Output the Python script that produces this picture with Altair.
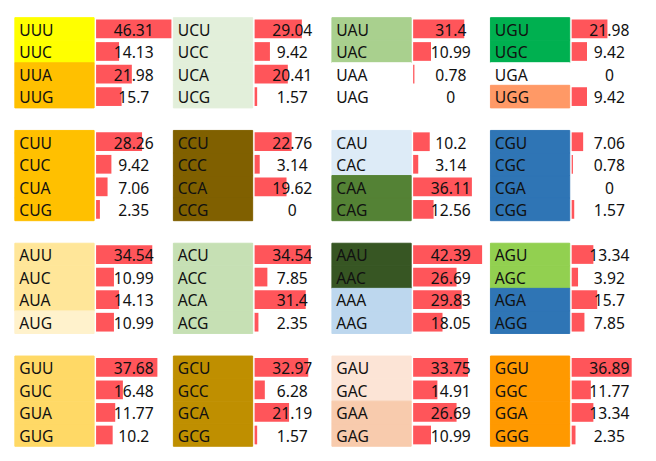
import altair as alt
import pandas as pd

bases = ["U", "C", "A", "G"]

# values per second base (column block); rows: first base U,C,A,G x third base U,C,A,G
vals_U = [46.31, 14.13, 21.98, 15.7, 28.26, 9.42, 7.06, 2.35,
          34.54, 10.99, 14.13, 10.99, 37.68, 16.48, 11.77, 10.2]
vals_C = [29.04, 9.42, 20.41, 1.57, 22.76, 3.14, 19.62, 0,
          34.54, 7.85, 31.4, 2.35, 32.97, 6.28, 21.19, 1.57]
vals_A = [31.4, 10.99, 0.78, 0, 10.2, 3.14, 36.11, 12.56,
          42.39, 26.69, 29.83, 18.05, 33.75, 14.91, 26.69, 10.99]
vals_G = [21.98, 9.42, 0, 9.42, 7.06, 0.78, 0, 1.57,
          13.34, 3.92, 15.7, 7.85, 36.89, 11.77, 13.34, 2.35]

fills_U = ["#FFFF00", "#FFFF00", "#FFC000", "#FFC000",
           "#FFC000", "#FFC000", "#FFC000", "#FFC000",
           "#FFE699", "#FFE699", "#FFE699", "#FFF2CC",
           "#FFD966", "#FFD966", "#FFD966", "#FFD966"]
fills_C = ["#E2EFDA"] * 4 + ["#806000"] * 4 + ["#C6E0B4"] * 4 + ["#BF8F00"] * 4
fills_A = ["#A9D08E", "#A9D08E", "#FFFFFF", "#FFFFFF",
           "#DDEBF7", "#DDEBF7", "#548235", "#548235",
           "#375623", "#375623", "#BDD7EE", "#BDD7EE",
           "#FCE4D6", "#FCE4D6", "#F8CBAD", "#F8CBAD"]
fills_G = ["#00B050", "#00B050", "#FFFFFF", "#FF9966",
           "#2F75B5", "#2F75B5", "#2F75B5", "#2F75B5",
           "#92D050", "#92D050", "#2F75B5", "#2F75B5",
           "#FF9900", "#FF9900", "#FF9900", "#FF9900"]

all_vals = {"U": vals_U, "C": vals_C, "A": vals_A, "G": vals_G}
all_fills = {"U": fills_U, "C": fills_C, "A": fills_A, "G": fills_G}
vmax = max(max(v) for v in all_vals.values())

slots = []
for i, f in enumerate(bases):
    slots += [f + t for t in bases]
    if i < 3:
        slots.append("gap" + str(i))

FONT = "Noto Sans"
FS = 16
H = 438
LW = 81
VW = 79

panels = []
for s in bases:
    rows = []
    k = 0
    for f in bases:
        for t in bases:
            rows.append({"slot": f + t, "codon": f + s + t,
                         "value": all_vals[s][k], "fill": all_fills[s][k],
                         "label": f"{all_vals[s][k]:g}"})
            k += 1
    df = pd.DataFrame(rows)

    ylab = alt.Y("slot:N", scale=alt.Scale(domain=slots, paddingInner=0, paddingOuter=0), axis=None)
    lbase = alt.Chart(df).encode(y=ylab)
    lrect = lbase.mark_rect(strokeWidth=1).encode(
        color=alt.Color("fill:N", scale=None),
        stroke=alt.Stroke("fill:N", scale=None))
    ltext = lbase.mark_text(align="left", baseline="middle", font=FONT, fontSize=FS,
                            color="#111111", dy=2).encode(x=alt.value(4.5), text="codon:N")
    lchart = alt.layer(lrect, ltext).properties(width=LW, height=H)

    yval = alt.Y("slot:N", scale=alt.Scale(domain=slots, paddingInner=0.17, paddingOuter=0.085), axis=None)
    vbase = alt.Chart(df).encode(y=yval)
    vbar = vbase.mark_bar(color="#FF555A").encode(
        x=alt.X("value:Q", scale=alt.Scale(domain=[0, vmax], range=[1, 78]), axis=None))
    vtext = vbase.mark_text(align="center", baseline="middle", font=FONT, fontSize=FS,
                            color="#111111", dy=2).encode(x=alt.value(VW / 2), text="label:N")
    vchart = alt.layer(vbar, vtext).properties(width=VW, height=H)

    panels += [lchart, vchart]

chart = alt.hconcat(*panels, spacing=0).resolve_scale(y="independent", x="independent").properties(
    padding={"left": 6, "top": 4, "right": 0, "bottom": 0}
).configure_view(stroke=None).configure_concat(spacing=0)

chart.save("out.html", embed_options={"renderer": "svg", "actions": False})
